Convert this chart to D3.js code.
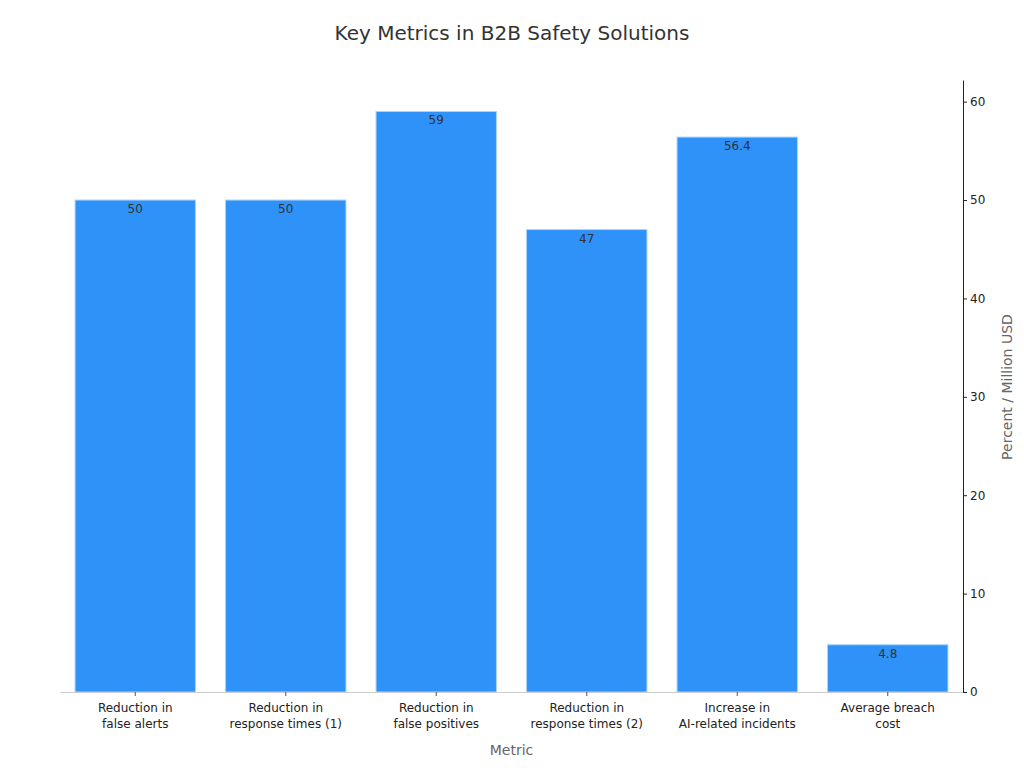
<!DOCTYPE html>
<html>
<head>
<meta charset="utf-8">
<script src="https://cdn.jsdelivr.net/npm/d3@7"></script>
<style>
  body { margin: 0; background: #fff; }
  svg, svg text { font-family: "DejaVu Sans", sans-serif; }
</style>
</head>
<body>
<svg id="chart" width="1024" height="768"></svg>
<script>
// Chart data
const metrics = [
  ["Reduction in", "false alerts"],
  ["Reduction in", "response times (1)"],
  ["Reduction in", "false positives"],
  ["Reduction in", "response times (2)"],
  ["Increase in", "AI-related incidents"],
  ["Average breach", "cost"]
];
const values = [50, 50, 59, 47, 56.4, 4.8];
const yTicks = [0, 10, 20, 30, 40, 50, 60];

const svg = d3.select("#chart");
const margin = { top: 80, right: 61, bottom: 76, left: 60 };
const width = +svg.attr("width") - margin.left - margin.right;
const height = +svg.attr("height") - margin.top - margin.bottom;

// Title
svg.append("text")
  .attr("x", 512)
  .attr("y", 40)
  .attr("text-anchor", "middle")
  .attr("font-size", "20px")
  .attr("fill", "#333")
  .text("Key Metrics in B2B Safety Solutions");

const g = svg.append("g").attr("transform", `translate(${margin.left},${margin.top})`);

const keys = metrics.map((d, i) => i);
const x = d3.scaleBand().domain(keys).range([0, width]).paddingInner(0.2).paddingOuter(0.1);
const y = d3.scaleLinear().domain([0, 62.2]).range([height, 0]);

// Bars
g.selectAll("rect.bar")
  .data(values)
  .join("rect")
  .attr("class", "bar")
  .attr("x", (d, i) => x(i))
  .attr("y", d => y(d))
  .attr("width", x.bandwidth())
  .attr("height", d => height - y(d))
  .attr("fill", "#2e92f8")
  .attr("stroke", "#a9d3fb")
  .attr("stroke-width", 1);

// Value labels inside bar tops
g.selectAll("text.val")
  .data(values)
  .join("text")
  .attr("class", "val")
  .attr("x", (d, i) => x(i) + x.bandwidth() / 2)
  .attr("y", d => y(d) + 13)
  .attr("text-anchor", "middle")
  .attr("font-size", "12px")
  .attr("fill", "#333")
  .text(d => d);

// Bottom axis
const xAxis = g.append("g")
  .attr("transform", `translate(0,${height})`)
  .call(d3.axisBottom(x).tickSize(4).tickSizeOuter(0).tickFormat(""))
  .attr("font-family", null);
xAxis.select(".domain").attr("stroke", "#ccc");
xAxis.selectAll(".tick line").attr("stroke", "#555");
xAxis.selectAll(".tick").each(function (i) {
  const t = d3.select(this).append("text")
    .attr("fill", "#222")
    .attr("font-size", "12px")
    .attr("text-anchor", "middle");
  metrics[i].forEach((line, k) => {
    t.append("tspan").attr("x", 0).attr("y", 20 + k * 16).text(line);
  });
});

// Right axis
const yAxis = g.append("g")
  .attr("transform", `translate(${width},0)`)
  .call(d3.axisRight(y).tickValues(yTicks).tickSize(4).tickSizeOuter(0))
  .attr("font-family", null);
yAxis.select(".domain").attr("stroke", "#222");
yAxis.selectAll(".tick line").attr("stroke", "#222");
yAxis.selectAll(".tick text").attr("font-size", "12px").attr("fill", "#222").attr("x", 7);

// Axis labels
svg.append("text")
  .attr("x", margin.left + width / 2)
  .attr("y", 755)
  .attr("text-anchor", "middle")
  .attr("font-size", "14px")
  .attr("fill", "#666")
  .text("Metric");

svg.append("text")
  .attr("transform", `translate(1012,387) rotate(-90)`)
  .attr("text-anchor", "middle")
  .attr("font-size", "14px")
  .attr("fill", "#666")
  .text("Percent / Million USD");
</script>
</body>
</html>
